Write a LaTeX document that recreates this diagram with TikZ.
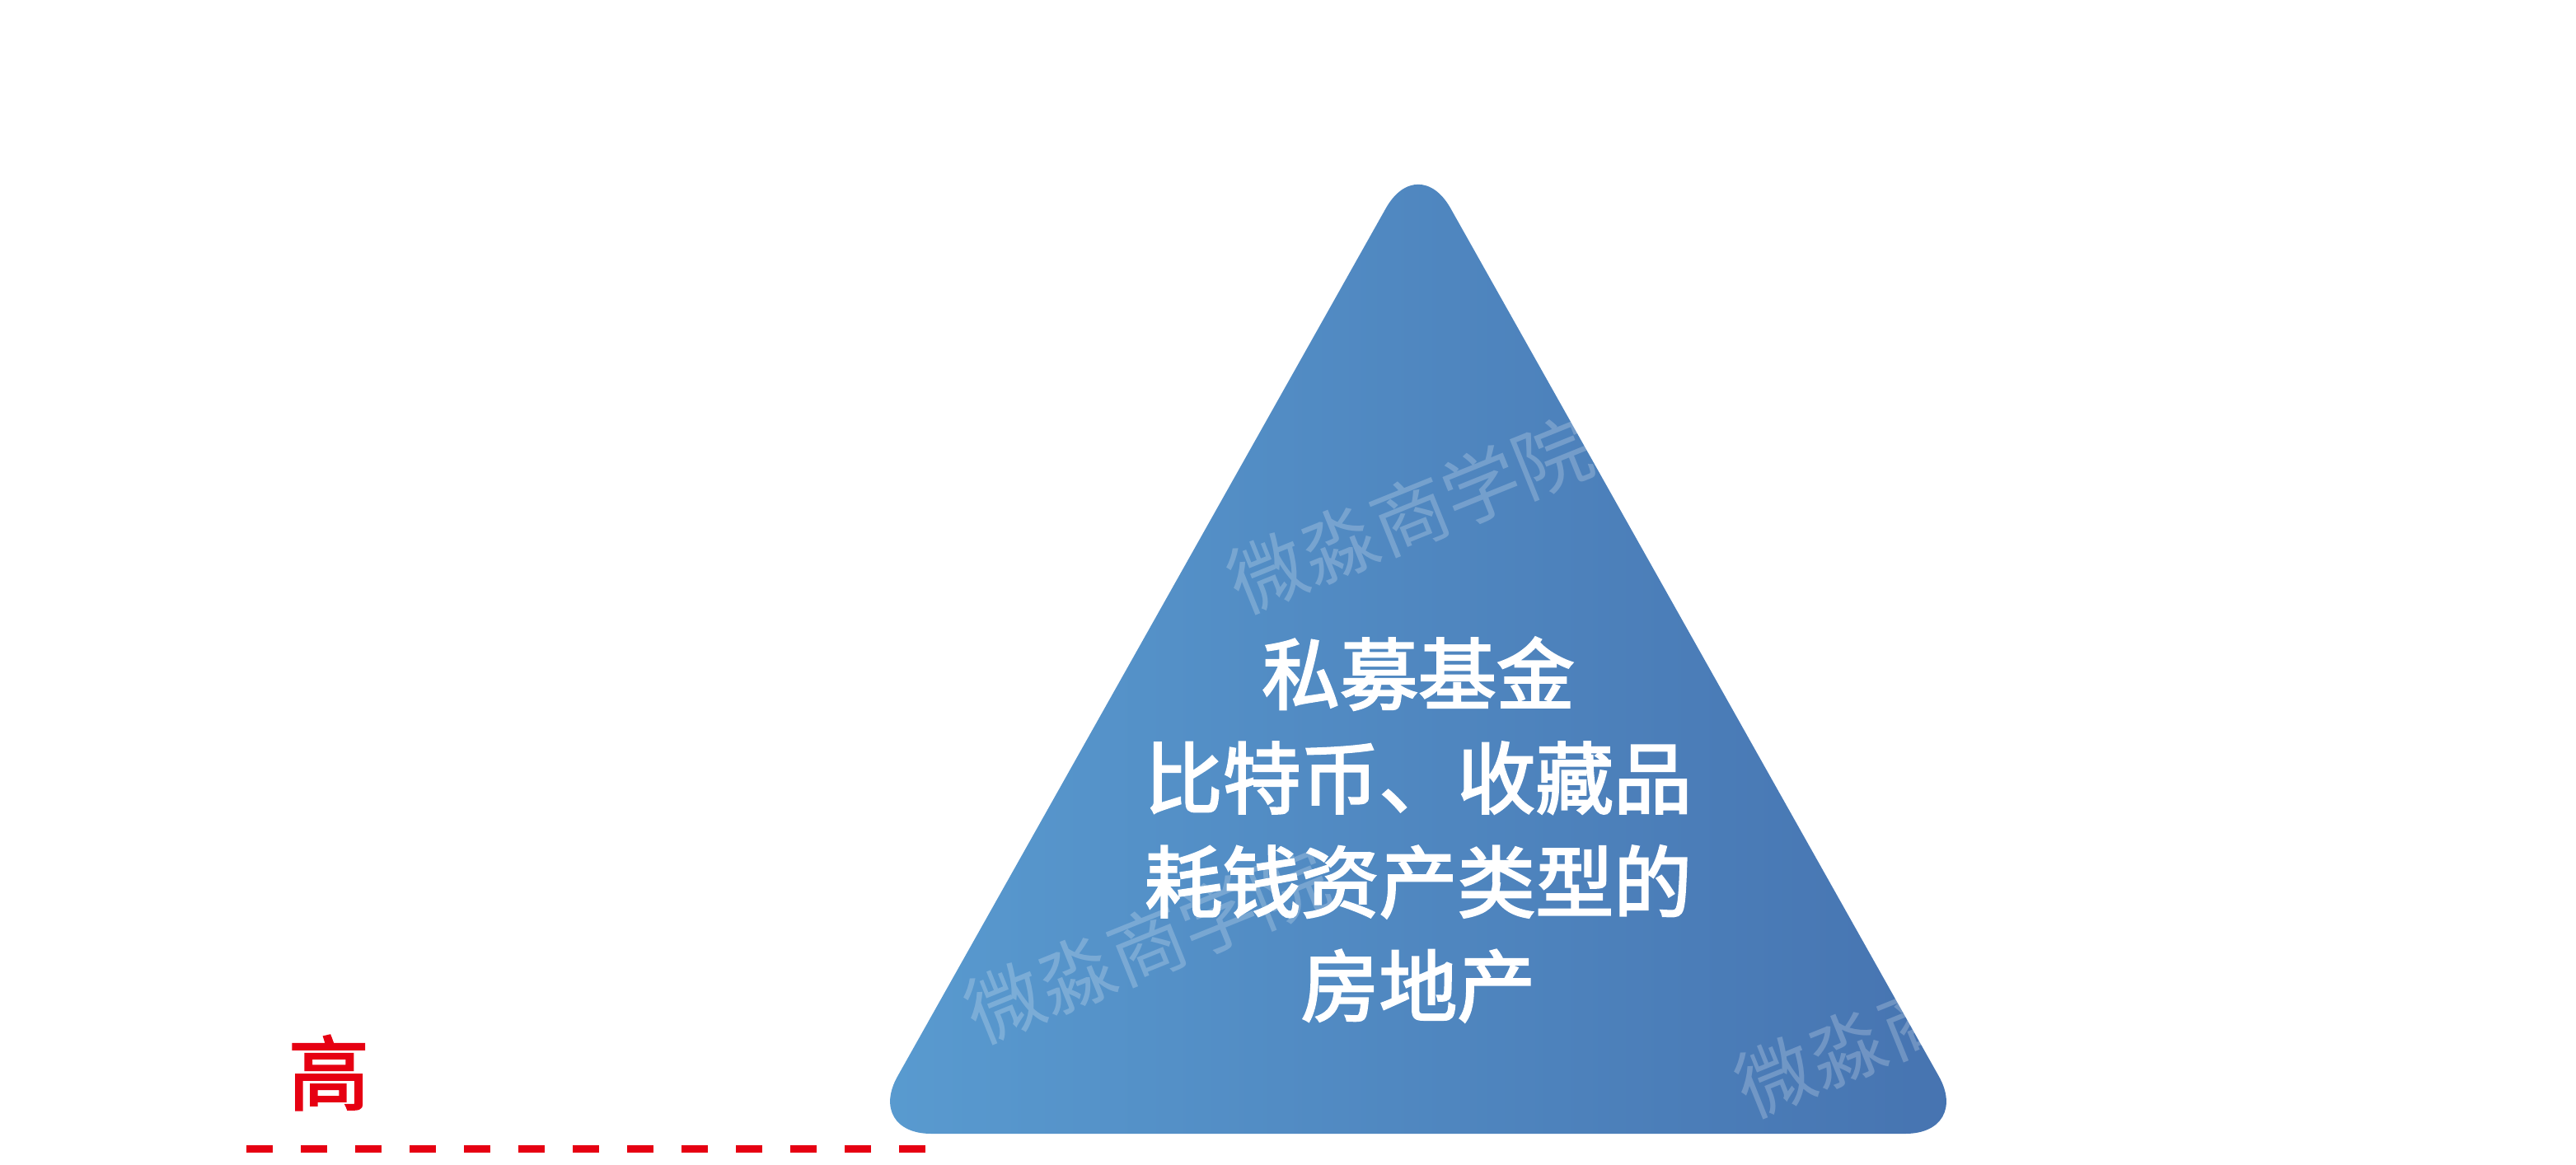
\documentclass[tikz,border=0pt]{standalone}
\usepackage{fontspec}
\setmainfont{Noto Sans CJK SC}
\newfontfamily\zhongti{Noto Sans CJK SC}[FakeBold=2.5]
\definecolor{gaohong}{HTML}{E60012}
\definecolor{lanzuo}{HTML}{599BD0}
\definecolor{lanyou}{HTML}{4673B0}
\begin{document}
\begin{tikzpicture}[
	    shuiyin/.style={text=white,text opacity=0.22,rotate=22,font=\fontsize{26.5}{26.5}\selectfont}]
	    \useasboundingbox (0,0) rectangle (31.26,14.13);
	    \coordinate (A) at (17.21,12.30);
	    \coordinate (B) at (10.50,0.37);
	    \coordinate (C) at (23.92,0.37);
	    \shade[left color=lanzuo,right color=lanyou,rounded corners=0.8cm] (B)--(A)--(C)--cycle;
	    
	    \node[shuiyin] (wm1) at (17.11,7.88) {微淼商学院};
	    \node[shuiyin] (wm2) at (13.92,2.66) {微淼商学院};
	    \node[shuiyin] (wm3) at (23.27,1.76) {微淼商学院};
	    
	    \node[white,align=center,font=\fontsize{27}{35.9}\selectfont\zhongti] (neirong) at (17.21,4.06)
	        {私募基金\\比特币、收藏品\\耗钱资产类型的\\房地产};
	    
	    \node[gaohong,font=\fontsize{28}{28}\selectfont\zhongti] (gao) at (3.99,1.11) {高};
	    \coordinate (xuL) at (2.99,0.19);
	    \coordinate (xuR) at (11.33,0.19);
	    \draw[gaohong,line width=0.09cm,dash pattern=on 0.32cm off 0.34cm] (xuL)--(xuR);
	\end{tikzpicture}
\end{document}
